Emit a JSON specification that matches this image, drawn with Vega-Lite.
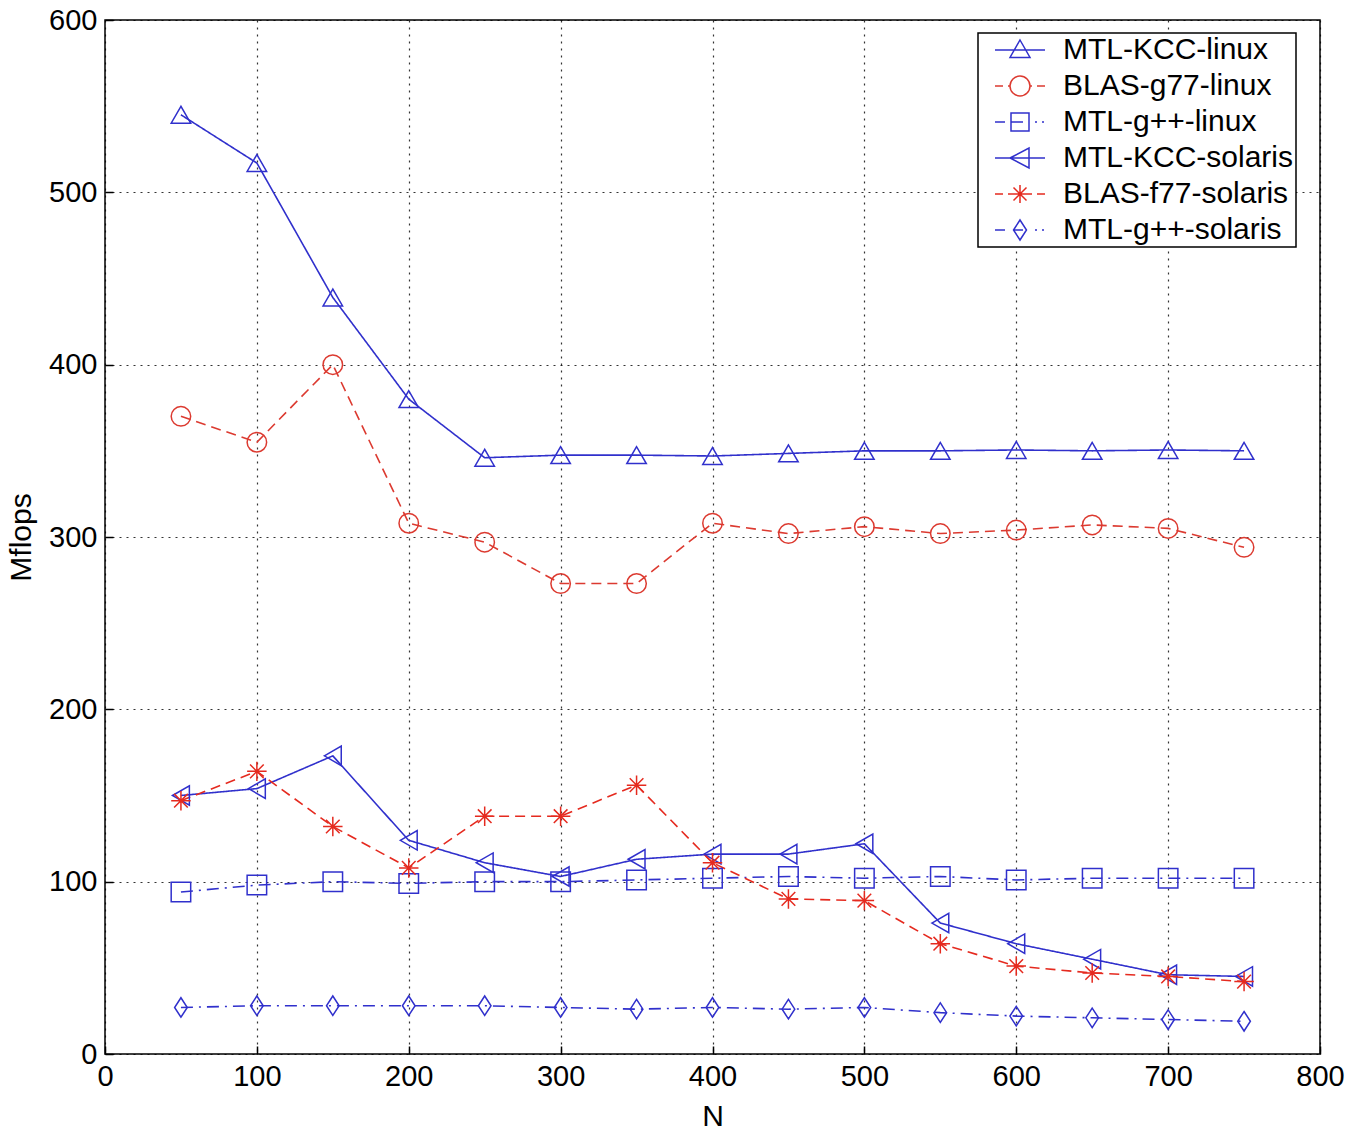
{
  "$schema": "https://vega.github.io/schema/vega-lite/v6.json",
  "autosize": "none",
  "padding": {"left": 105, "top": 20, "right": 36, "bottom": 78},
  "width": 1215,
  "height": 1034,
  "background": "white",
  "data": {"values": [
    {"series":"MTL-KCC-linux","N":50,"v":545},{"series":"MTL-KCC-linux","N":100,"v":517},{"series":"MTL-KCC-linux","N":150,"v":439},{"series":"MTL-KCC-linux","N":200,"v":380},{"series":"MTL-KCC-linux","N":250,"v":346},{"series":"MTL-KCC-linux","N":300,"v":347.5},{"series":"MTL-KCC-linux","N":350,"v":347.5},{"series":"MTL-KCC-linux","N":400,"v":347},{"series":"MTL-KCC-linux","N":450,"v":348.5},{"series":"MTL-KCC-linux","N":500,"v":350},{"series":"MTL-KCC-linux","N":550,"v":350},{"series":"MTL-KCC-linux","N":600,"v":350.5},{"series":"MTL-KCC-linux","N":650,"v":350},{"series":"MTL-KCC-linux","N":700,"v":350.5},{"series":"MTL-KCC-linux","N":750,"v":350},
    {"series":"BLAS-g77-linux","N":50,"v":370},{"series":"BLAS-g77-linux","N":100,"v":355},{"series":"BLAS-g77-linux","N":150,"v":400},{"series":"BLAS-g77-linux","N":200,"v":308},{"series":"BLAS-g77-linux","N":250,"v":297},{"series":"BLAS-g77-linux","N":300,"v":273},{"series":"BLAS-g77-linux","N":350,"v":273},{"series":"BLAS-g77-linux","N":400,"v":308},{"series":"BLAS-g77-linux","N":450,"v":302},{"series":"BLAS-g77-linux","N":500,"v":306},{"series":"BLAS-g77-linux","N":550,"v":302},{"series":"BLAS-g77-linux","N":600,"v":304},{"series":"BLAS-g77-linux","N":650,"v":307},{"series":"BLAS-g77-linux","N":700,"v":305},{"series":"BLAS-g77-linux","N":750,"v":294},
    {"series":"MTL-g++-linux","N":50,"v":94},{"series":"MTL-g++-linux","N":100,"v":98},{"series":"MTL-g++-linux","N":150,"v":100},{"series":"MTL-g++-linux","N":200,"v":99},{"series":"MTL-g++-linux","N":250,"v":100},{"series":"MTL-g++-linux","N":300,"v":100},{"series":"MTL-g++-linux","N":350,"v":101},{"series":"MTL-g++-linux","N":400,"v":102},{"series":"MTL-g++-linux","N":450,"v":103},{"series":"MTL-g++-linux","N":500,"v":102},{"series":"MTL-g++-linux","N":550,"v":103},{"series":"MTL-g++-linux","N":600,"v":101},{"series":"MTL-g++-linux","N":650,"v":102},{"series":"MTL-g++-linux","N":700,"v":102},{"series":"MTL-g++-linux","N":750,"v":102},
    {"series":"MTL-KCC-solaris","N":50,"v":150},{"series":"MTL-KCC-solaris","N":100,"v":154},{"series":"MTL-KCC-solaris","N":150,"v":173},{"series":"MTL-KCC-solaris","N":200,"v":124},{"series":"MTL-KCC-solaris","N":250,"v":111},{"series":"MTL-KCC-solaris","N":300,"v":103},{"series":"MTL-KCC-solaris","N":350,"v":113},{"series":"MTL-KCC-solaris","N":400,"v":116},{"series":"MTL-KCC-solaris","N":450,"v":116},{"series":"MTL-KCC-solaris","N":500,"v":122},{"series":"MTL-KCC-solaris","N":550,"v":76},{"series":"MTL-KCC-solaris","N":600,"v":64},{"series":"MTL-KCC-solaris","N":650,"v":55},{"series":"MTL-KCC-solaris","N":700,"v":46},{"series":"MTL-KCC-solaris","N":750,"v":45},
    {"series":"BLAS-f77-solaris","N":50,"v":147},{"series":"BLAS-f77-solaris","N":100,"v":164},{"series":"BLAS-f77-solaris","N":150,"v":132},{"series":"BLAS-f77-solaris","N":200,"v":108},{"series":"BLAS-f77-solaris","N":250,"v":138},{"series":"BLAS-f77-solaris","N":300,"v":138},{"series":"BLAS-f77-solaris","N":350,"v":156},{"series":"BLAS-f77-solaris","N":400,"v":111},{"series":"BLAS-f77-solaris","N":450,"v":90},{"series":"BLAS-f77-solaris","N":500,"v":89},{"series":"BLAS-f77-solaris","N":550,"v":64},{"series":"BLAS-f77-solaris","N":600,"v":51},{"series":"BLAS-f77-solaris","N":650,"v":47},{"series":"BLAS-f77-solaris","N":700,"v":45},{"series":"BLAS-f77-solaris","N":750,"v":42},
    {"series":"MTL-g++-solaris","N":50,"v":27},{"series":"MTL-g++-solaris","N":100,"v":28},{"series":"MTL-g++-solaris","N":150,"v":28},{"series":"MTL-g++-solaris","N":200,"v":28},{"series":"MTL-g++-solaris","N":250,"v":28},{"series":"MTL-g++-solaris","N":300,"v":27},{"series":"MTL-g++-solaris","N":350,"v":26},{"series":"MTL-g++-solaris","N":400,"v":27},{"series":"MTL-g++-solaris","N":450,"v":26},{"series":"MTL-g++-solaris","N":500,"v":27},{"series":"MTL-g++-solaris","N":550,"v":24},{"series":"MTL-g++-solaris","N":600,"v":22},{"series":"MTL-g++-solaris","N":650,"v":21},{"series":"MTL-g++-solaris","N":700,"v":20},{"series":"MTL-g++-solaris","N":750,"v":19}
  ]},
  "encoding": {
    "x": {"field": "N", "type": "quantitative", "title": "N",
      "scale": {"domain": [0, 800], "nice": false, "zero": false},
      "axis": {"values": [0,100,200,300,400,500,600,700,800], "labelFlush": false}},
    "y": {"field": "v", "type": "quantitative", "title": "Mflops",
      "scale": {"domain": [0, 600], "nice": false},
      "axis": {"values": [0,100,200,300,400,500,600], "labelFlush": false}},
    "color": {"field": "series", "type": "nominal", "legend": null,
      "scale": {"domain": ["MTL-KCC-linux","BLAS-g77-linux","MTL-g++-linux","MTL-KCC-solaris","BLAS-f77-solaris","MTL-g++-solaris"],
        "range": ["#3030cc","#dc3a30","#3030cc","#3030cc","#e52a1f","#3030cc"]}}
  },
  "layer": [
    {
      "mark": {"type": "line", "strokeWidth": 1.6},
      "encoding": {
        "strokeDash": {"field": "series", "type": "nominal", "legend": null,
          "scale": {"domain": ["MTL-KCC-linux","BLAS-g77-linux","MTL-g++-linux","MTL-KCC-solaris","BLAS-f77-solaris","MTL-g++-solaris"],
            "range": [[1,0],[10,6],[12,6,2,6],[1,0],[10,6],[12,6,2,6]]}}
      }
    },
    {
      "mark": {"type": "point", "filled": false, "strokeWidth": 1.5, "size": 380, "opacity": 1},
      "encoding": {
        "shape": {"field": "series", "type": "nominal", "legend": null,
          "scale": {"domain": ["MTL-KCC-linux","BLAS-g77-linux","MTL-g++-linux","MTL-KCC-solaris","BLAS-f77-solaris","MTL-g++-solaris"],
            "range": ["triangle-up","circle","square","triangle-left","M-1,0H1M0,-1V1M-0.7,-0.7L0.7,0.7M-0.7,0.7L0.7,-0.7","M0,-1L0.65,0L0,1L-0.65,0Z"]}}
      }
    },
    {
      "transform": [{"filter": "false"}],
      "mark": {"type": "point", "filled": false, "strokeWidth": 1.5, "size": 400, "opacity": 1},
      "encoding": {
        "color": {"field": "series", "type": "nominal",
          "legend": {"orient": "none", "legendX": 873, "legendY": 13, "title": null},
          "scale": {"domain": ["MTL-KCC-linux","BLAS-g77-linux","MTL-g++-linux","MTL-KCC-solaris","BLAS-f77-solaris","MTL-g++-solaris"],
            "range": ["#3030cc","#dc3a30","#3030cc","#3030cc","#e52a1f","#3030cc"]}},
        "shape": {"field": "series", "type": "nominal",
          "legend": {"orient": "none", "legendX": 873, "legendY": 13, "title": null},
          "scale": {"domain": ["MTL-KCC-linux","BLAS-g77-linux","MTL-g++-linux","MTL-KCC-solaris","BLAS-f77-solaris","MTL-g++-solaris"],
            "range": [
              "M-2.5,0H2.5M0,-1L1,0.75L-1,0.75Z",
              "M-2.5,0H-1.7M-1.2,0H-1M1,0H1.2M1.7,0H2.5M1,0A1,1,0,1,1,-1,0A1,1,0,1,1,1,0Z",
              "M-2.5,0H-1.5M-0.9,-0.9H0.9V0.9H-0.9ZM-0.9,0H0.3M1.5,0H1.7M2.2,0H2.4",
              "M-2.5,0H2.5M-1,0L0.9,-1L0.9,1Z",
              "M-2.5,0H-1.7M-1.2,0H1.2M1.7,0H2.5M0,-0.9V0.9M-0.65,-0.65L0.65,0.65M-0.65,0.65L0.65,-0.65",
              "M-2.5,0H-1.5M0,-1L0.65,0L0,1L-0.65,0ZM-0.65,0H0.3M1.5,0H1.7M2.2,0H2.4"
            ]}}
      }
    }
  ],
  "resolve": {"scale": {"color": "independent", "shape": "independent"}},
  "config": {
    "font": "Liberation Sans",
    "view": {"stroke": "#000000", "strokeWidth": 1.5},
    "axis": {
      "domain": false,
      "grid": true, "gridColor": "#000000", "gridDash": [2, 5], "gridOpacity": 0.8, "gridWidth": 1.2,
      "ticks": true, "tickColor": "#000000", "tickSize": -8, "tickWidth": 1.5,
      "labelFont": "Liberation Sans", "labelFontSize": 29, "labelColor": "#000000",
      "titleFont": "Liberation Sans", "titleFontSize": 30, "titleFontWeight": "normal", "titleColor": "#000000"
    },
    "axisX": {"labelPadding": 16, "titlePadding": 10},
    "axisY": {"labelPadding": 16, "titlePadding": 12},
    "legend": {
      "strokeColor": "#000000", "fillColor": "#ffffff", "padding": 2, "strokeWidth": 1.5,
      "labelFont": "Liberation Sans", "labelFontSize": 30, "labelColor": "#000000", "labelLimit": 400,
      "symbolSize": 400, "symbolStrokeWidth": 1.5, "rowPadding": 6, "symbolOffset": 25, "labelOffset": 28
    }
  }
}
